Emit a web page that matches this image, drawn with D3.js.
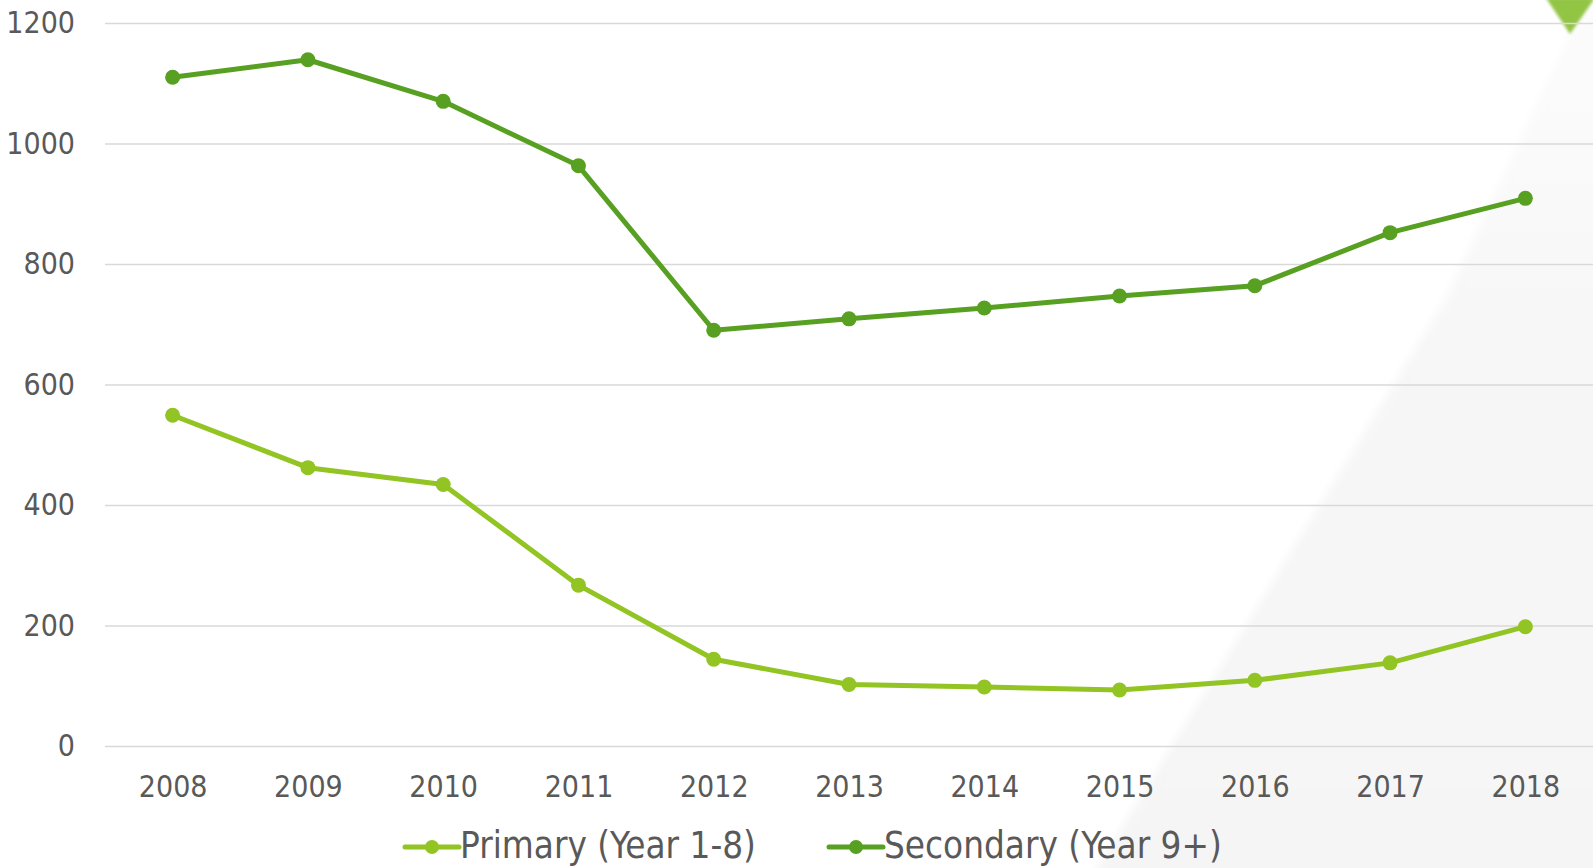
<!DOCTYPE html>
<html>
<head>
<meta charset="utf-8">
<script src="https://cdn.jsdelivr.net/npm/d3@7"></script>
<style>
  html, body { margin: 0; padding: 0; background: #fff; overflow: hidden; }
  svg { display: block; font-family: "DejaVu Sans Condensed", "DejaVu Sans", sans-serif; font-stretch: condensed; }
  .tick text { fill: #595959; }
</style>
</head>
<body>
<svg id="chart" width="1593" height="868"></svg>
<script>
// data
const years = ["2008", "2009", "2010", "2011", "2012", "2013", "2014", "2015", "2016", "2017", "2018"];
const primary = [549, 462, 434, 267, 144, 102, 98, 93, 109, 138, 198];
const secondary = [1110, 1139, 1070, 963, 690, 709, 727, 747, 764, 852, 909];
const yTicks = [0, 200, 400, 600, 800, 1000, 1200];
const seriesNames = ["Primary (Year 1-8)", "Secondary (Year 9+)"];
const seriesColors = ["#92c423", "#58a022"];

const W = 1593, H = 868;
const margin = {left: 105, top: 23, bottom: 746};

let svg = d3.select("#chart");
let defs = svg.append("defs");

// soft grey wedge in the bottom right corner
let grad = defs.append("linearGradient")
    .attr("id", "wedge")
    .attr("x1", 0).attr("y1", 0).attr("x2", 0).attr("y2", 1);
grad.append("stop").attr("offset", "0%").attr("stop-color", "#fcfcfc");
grad.append("stop").attr("offset", "40%").attr("stop-color", "#f7f7f7");
grad.append("stop").attr("offset", "100%").attr("stop-color", "#f5f5f5");

defs.append("filter").attr("id", "soft")
    .append("feGaussianBlur").attr("stdDeviation", 4);
defs.append("filter").attr("id", "soft2")
    .append("feGaussianBlur").attr("stdDeviation", 1.5);

svg.append("path")
    .attr("d", "M1090,880 L1445,300 L1572,30 L1610,-10 L1610,880 Z")
    .attr("fill", "url(#wedge)")
    .attr("filter", "url(#soft)");

// green marker cut off at the top right
svg.append("path")
    .attr("d", "M1546,-2 L1595,-2 L1570,34 Z")
    .attr("fill", "#93c545")
    .attr("filter", "url(#soft2)");

let x = d3.scalePoint()
    .domain(years)
    .range([margin.left, W])
    .padding(0.5);

let y = d3.scaleLinear()
    .domain([0, 1200])
    .range([margin.bottom, margin.top]);

// y axis with grid lines
let yAxis = svg.append("g")
    .attr("transform", "translate(" + margin.left + ",0)")
    .call(d3.axisLeft(y).tickValues(yTicks).tickFormat(d3.format("d"))
        .tickSize(-(W - margin.left)).tickPadding(30));
yAxis.attr("font-family", null).attr("font-size", 30);
yAxis.select(".domain").remove();
yAxis.selectAll(".tick line")
    .attr("stroke", "#d9d9d9")
    .attr("stroke-width", 1.6);

// x axis labels
let xAxis = svg.append("g")
    .attr("transform", "translate(0," + margin.bottom + ")")
    .call(d3.axisBottom(x).tickSize(0).tickPadding(30));
xAxis.attr("font-family", null).attr("font-size", 30);
xAxis.select(".domain").remove();

let line = d3.line()
    .x((d, i) => x(years[i]))
    .y((d) => y(d));

[primary, secondary].forEach((values, k) => {
    let g = svg.append("g");
    g.append("path")
        .datum(values)
        .attr("fill", "none")
        .attr("stroke", seriesColors[k])
        .attr("stroke-width", 5)
        .attr("stroke-linejoin", "round")
        .attr("d", line);
    g.selectAll("circle")
        .data(values)
        .enter().append("circle")
        .attr("cx", (d, i) => x(years[i]))
        .attr("cy", (d) => y(d))
        .attr("r", 7.5)
        .attr("fill", seriesColors[k]);
});

// legend
let legendX = [405, 829];
let legendY = 847;
seriesNames.forEach((name, k) => {
    let g = svg.append("g").attr("transform", "translate(" + legendX[k] + "," + legendY + ")");
    g.append("line")
        .attr("x1", 0).attr("x2", 54)
        .attr("y1", 0).attr("y2", 0)
        .attr("stroke", seriesColors[k])
        .attr("stroke-width", 5)
        .attr("stroke-linecap", "round");
    g.append("circle")
        .attr("cx", 27).attr("cy", 0).attr("r", 7)
        .attr("fill", seriesColors[k]);
    g.append("text")
        .attr("x", 55)
        .attr("y", 11)
        .attr("font-size", 36.5)
        .attr("fill", "#595959")
        .text(name);
});
</script>
</body>
</html>
